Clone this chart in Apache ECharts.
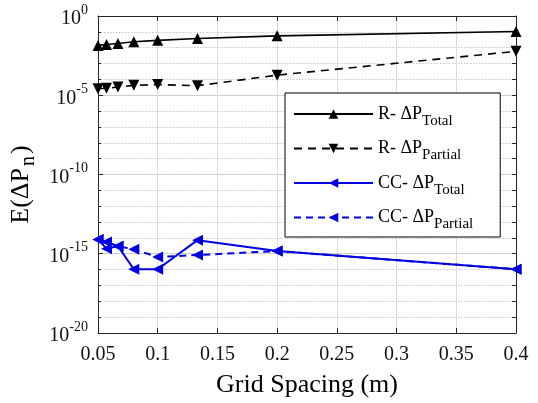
<!DOCTYPE html>
<html>
<head>
<meta charset="utf-8">
<script src="https://cdn.jsdelivr.net/npm/echarts@6/dist/echarts.min.js"></script>
<style>html,body{margin:0;padding:0;background:#fff}#c{width:538px;height:403px}</style>
</head>
<body>
<div id="c"></div>
<script>
// Grid spacing (m)
const gridSpacing = [0.05, 0.0571, 0.0667, 0.08, 0.1, 0.1333, 0.2, 0.4];
// Error values E(dP_n)
const rTotal    = [1.4e-2, 1.6e-2, 1.85e-2, 2.35e-2, 2.9e-2, 3.8e-2, 5.6e-2, 1.05e-1];
const rPartial  = [2.6e-5, 2.75e-5, 3.3e-5, 4.2e-5, 4.7e-5, 4.0e-5, 1.86e-4, 5.9e-3];
const ccTotal   = [8e-15, 2.1e-15, 3.0e-15, 1.05e-16, 1.05e-16, 7.2e-15, 1.48e-15, 1.05e-16];
const ccPartial = [8e-15, 5.6e-15, 3.0e-15, 1.9e-15, 6.2e-16, 8.3e-16, 1.48e-15, 1.05e-16];
const seriesNames = ['R-Total', 'R-Partial', 'CC-Total', 'CC-Partial'];
const legendLabels = {
  'R-Total':   ['R- \u0394P', 'Total'],
  'R-Partial': ['R- \u0394P', 'Partial'],
  'CC-Total':  ['CC- \u0394P', 'Total'],
  'CC-Partial':['CC- \u0394P', 'Partial']
};

const FONT = '"Liberation Serif", "Times New Roman", serif';
const BLUE = '#0000e0';
function pairs(ys){ return gridSpacing.map((x,i)=>[x, ys[i]]); }

const chart = echarts.init(document.getElementById('c'), null, {renderer:'canvas'});
const axisLineStyle = {color:'#262626', width:1};
chart.setOption({
  animation:false,
  backgroundColor:'#fff',
  grid:{left:98, top:16, right:22, bottom:67, containLabel:false},
  xAxis:[{
    type:'value', min:0.05, max:0.4, interval:0.05, position:'bottom',
    name:'Grid Spacing (m)', nameLocation:'middle', nameGap:39,
    nameTextStyle:{fontFamily:FONT, fontSize:26, color:'#000'},
    axisLine:{show:true, onZero:false, lineStyle:axisLineStyle},
    axisTick:{show:true, inside:true, length:5, lineStyle:axisLineStyle},
    axisLabel:{fontFamily:FONT, fontSize:20, color:'#111', margin:12,
      formatter:v=>String(Math.round(v*100)/100)},
    splitLine:{show:true, lineStyle:{color:'#dcdcdc', width:1}}
  },{
    type:'value', min:0.05, max:0.4, interval:0.05, position:'top',
    axisLine:{show:true, onZero:false, lineStyle:axisLineStyle},
    axisTick:{show:true, inside:true, length:5, lineStyle:axisLineStyle},
    axisLabel:{show:false}, splitLine:{show:false}
  }],
  yAxis:[{
    type:'log', logBase:10, min:1e-20, max:1, interval:5, position:'left',
    name:'{m|E(\u0394P}{s|n}{m|)}', nameLocation:'middle', nameGap:54, nameRotate:90,
    nameTextStyle:{fontFamily:FONT, fontSize:26, color:'#000', padding:[0,20,0,0],
      rich:{m:{fontFamily:FONT, fontSize:26, color:'#000'},
            s:{fontFamily:FONT, fontSize:20, color:'#000', padding:[14,2,0,2]}}},
    axisLine:{show:true, onZero:false, lineStyle:axisLineStyle},
    axisTick:{show:true, inside:true, length:5, lineStyle:axisLineStyle},
    axisLabel:{fontFamily:FONT, fontSize:20, color:'#111', margin:10,
      formatter:v=>'{b|10}{p|'+Math.round(Math.log10(v))+'}',
      rich:{b:{fontFamily:FONT, fontSize:20, color:'#111', verticalAlign:'bottom'},
            p:{fontFamily:FONT, fontSize:14, color:'#111', verticalAlign:'top', padding:[0,0,12,0]}}},
    splitLine:{show:true, lineStyle:{color:'#d4d4d4', width:1}}
  },{
    type:'log', logBase:10, min:1e-20, max:1, interval:1, position:'left',
    axisLine:{show:false},
    axisTick:{show:true, inside:true, length:3, lineStyle:axisLineStyle},
    axisLabel:{show:false},
    splitLine:{show:true, lineStyle:{color:'#c8c8c8', width:1, type:[1.5,1.5]}}
  },{
    type:'log', logBase:10, min:1e-20, max:1, interval:1, position:'right',
    axisLine:{show:true, onZero:false, lineStyle:axisLineStyle},
    axisTick:{show:true, inside:true, length:4, lineStyle:axisLineStyle},
    axisLabel:{show:false}, splitLine:{show:false}
  }],
  legend:{
    orient:'vertical', left:285, top:93,
    data:seriesNames,
    backgroundColor:'#fff', borderColor:'#000', borderWidth:1,
    padding:[12,27,5,8], itemGap:11, itemWidth:79, itemHeight:12,
    formatter:n=>'{m|'+legendLabels[n][0]+'}{s|'+legendLabels[n][1]+'}',
    textStyle:{fontFamily:FONT, fontSize:18, color:'#000',
      rich:{m:{fontFamily:FONT, fontSize:18, color:'#000'},
            s:{fontFamily:FONT, fontSize:15, color:'#000', padding:[14,0,0,0]}}}
  },
  series:[
    {name:'R-Total', type:'line', data:pairs(rTotal), xAxisIndex:0, yAxisIndex:0,
     symbol:'triangle', symbolSize:11, symbolRotate:0,
     lineStyle:{color:'#000', width:1.6}, itemStyle:{color:'#000'}, z:5},
    {name:'R-Partial', type:'line', data:pairs(rPartial), xAxisIndex:0, yAxisIndex:0,
     symbol:'triangle', symbolSize:11, symbolRotate:180,
     lineStyle:{color:'#000', width:1.6, type:[8,6]}, itemStyle:{color:'#000'}, z:5},
    {name:'CC-Total', type:'line', data:pairs(ccTotal), xAxisIndex:0, yAxisIndex:0,
     symbol:'triangle', symbolSize:11, symbolRotate:90,
     lineStyle:{color:BLUE, width:2}, itemStyle:{color:BLUE}, z:5},
    {name:'CC-Partial', type:'line', data:pairs(ccPartial), xAxisIndex:0, yAxisIndex:0,
     symbol:'triangle', symbolSize:11, symbolRotate:90,
     lineStyle:{color:BLUE, width:2, type:[7,5]}, itemStyle:{color:BLUE}, z:5}
  ]
});
</script>
</body>
</html>
